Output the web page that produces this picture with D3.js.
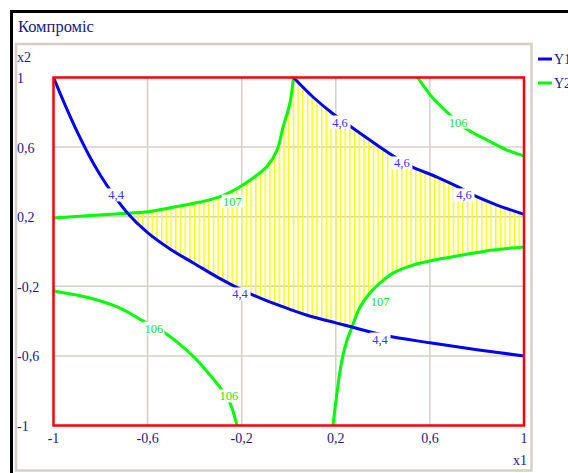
<!DOCTYPE html>
<html>
<head>
<meta charset="utf-8">
<script src="https://cdnjs.cloudflare.com/ajax/libs/d3/7.8.5/d3.min.js"></script>
<style>
  body { margin: 0; background: #fff; }
  svg { display: block; font-family: "Liberation Serif", "DejaVu Serif", serif; }
</style>
</head>
<body>
<svg id="main_chart" width="568" height="473"></svg>
<script>
(function() {
  const title = 'Компроміс';
  const xTicks = [-1, -0.6, -0.2, 0.2, 0.6, 1];
  const yTicks = [1, 0.6, 0.2, -0.2, -0.6, -1];
  const gridValues = [-0.6, -0.2, 0.2, 0.6];
  const seriesNames = ['Y1', 'Y2'];

  // contour lines, [x1, x2]
  const y1Level44 = [[-1, 1], [-0.95, 0.84], [-0.9, 0.69], [-0.85, 0.555], [-0.8, 0.437],
    [-0.75, 0.335], [-0.685, 0.22], [-0.6, 0.108], [-0.5, 0.01],
    [-0.4, -0.07], [-0.3, -0.15], [-0.2, -0.22], [-0.1, -0.28], [0, -0.33], [0.1, -0.375],
    [0.2, -0.41], [0.269, -0.434], [0.4, -0.48], [0.6, -0.525], [0.8, -0.565], [1, -0.6]];
  const y1Level46 = [[0.02, 1], [0.103, 0.888], [0.184, 0.796], [0.26, 0.721], [0.375, 0.612],
    [0.452, 0.543], [0.524, 0.486], [0.63, 0.428], [0.72, 0.371], [0.783, 0.325],
    [0.885, 0.267], [1, 0.214]];
  const y2Level107a = [[-1, 0.193], [-0.875, 0.204], [-0.685, 0.22], [-0.598, 0.229],
    [-0.492, 0.254], [-0.377, 0.284], [-0.292, 0.315], [-0.207, 0.372], [-0.152, 0.422],
    [-0.092, 0.49], [-0.05, 0.583], [-0.024, 0.716], [0.005, 0.853], [0.02, 1]];
  const y2Level107b = [[0.188, -1], [0.205, -0.813], [0.226, -0.624], [0.248, -0.509],
    [0.269, -0.434], [0.303, -0.319], [0.345, -0.239], [0.388, -0.181], [0.443, -0.124],
    [0.528, -0.078], [0.6, -0.055], [0.741, -0.02], [0.868, 0.009], [1, 0.026]];
  const y2Level106a = [[0.548, 1], [0.609, 0.888], [0.677, 0.796], [0.749, 0.71],
    [0.843, 0.641], [0.928, 0.583], [1, 0.549]];
  const y2Level106b = [[-1, -0.227], [-0.845, -0.267], [-0.717, -0.325], [-0.62, -0.399],
    [-0.526, -0.468], [-0.407, -0.601], [-0.335, -0.71], [-0.284, -0.796], [-0.25, -0.87],
    [-0.22, -1]];

  // level labels [x1, x2, text]
  const y1Labels = [[-0.734, 0.325, '4,4'], [-0.207, -0.244, '4,4'], [0.388, -0.503, '4,4'],
    [0.218, 0.744, '4,6'], [0.481, 0.509, '4,6'], [0.745, 0.325, '4,6']];
  const y2Labels = [[-0.24, 0.29, '107'], [0.388, -0.29, '107'],
    [0.72, 0.744, '106'], [-0.573, -0.44, '106'], [-0.254, -0.83, '106']];

  const navy = '#1a1a86';
  const svg = d3.select('#main_chart');
  const fmt = d => String(d).replace('.', ',');

  const xScale = d3.scaleLinear().domain([-1, 1]).range([53.5, 524]);
  const yScale = d3.scaleLinear().domain([-1, 1]).range([425.5, 77.5]);

  // frames
  svg.append('rect').attr('x', 11.5).attr('y', 11.5).attr('width', 620).attr('height', 520)
    .attr('fill', 'none').attr('stroke', '#000').attr('stroke-width', 3);
  svg.append('rect').attr('x', 16).attr('y', 44).attr('width', 515.5).attr('height', 426.5)
    .attr('fill', 'none').attr('stroke', '#d4d0c8').attr('stroke-width', 2.5);
  svg.append('text').attr('x', 18).attr('y', 32).attr('font-size', 16.5).attr('fill', navy).text(title);

  const defs = svg.append('defs');
  defs.append('clipPath').attr('id', 'plot_clip').append('rect')
    .attr('x', xScale(-1)).attr('y', yScale(1))
    .attr('width', xScale(1) - xScale(-1)).attr('height', yScale(-1) - yScale(1));
  const step = xScale(-0.98) - xScale(-1);
  const pat = defs.append('pattern').attr('id', 'hatch').attr('patternUnits', 'userSpaceOnUse')
    .attr('x', xScale(-1) - 0.75).attr('y', 0).attr('width', step).attr('height', 10);
  pat.append('rect').attr('x', 0).attr('y', 0).attr('width', 1.5).attr('height', 10).attr('fill', '#ffff00');

  // grid
  const grid = svg.append('g');
  grid.selectAll('line.gx').data(gridValues).enter().append('line')
    .attr('x1', d => xScale(d)).attr('x2', d => xScale(d))
    .attr('y1', yScale(1)).attr('y2', yScale(-1))
    .attr('stroke', '#d4d0c8').attr('stroke-width', 1.5);
  grid.selectAll('line.gy').data(gridValues).enter().append('line')
    .attr('y1', d => yScale(d)).attr('y2', d => yScale(d))
    .attr('x1', xScale(-1)).attr('x2', xScale(1))
    .attr('stroke', '#d4d0c8').attr('stroke-width', 1.5);

  const line = d3.line().x(d => xScale(d[0])).y(d => yScale(d[1])).curve(d3.curveCatmullRom);
  const plot = svg.append('g').attr('clip-path', 'url(#plot_clip)');

  // compromise region: under 107 (left) and 4,6, above 4,4 and 107 (right)
  const region = y2Level107a.slice(2)
    .concat(y1Level46.slice(1))
    .concat(y2Level107b.slice(4).reverse())
    .concat(y1Level44.slice(6, 17).reverse());
  plot.append('path').attr('d', line(region) + 'Z')
    .attr('fill', 'url(#hatch)').attr('stroke', 'none');

  const curves = [
    {pts: y2Level107a, c: '#00ff00'}, {pts: y2Level107b, c: '#00ff00'},
    {pts: y2Level106a, c: '#00ff00'}, {pts: y2Level106b, c: '#00ff00'},
    {pts: y1Level44, c: '#0000ff'}, {pts: y1Level46, c: '#0000ff'}
  ];
  plot.selectAll('path.curve').data(curves).enter().append('path').attr('class', 'curve')
    .attr('d', d => line(d.pts)).attr('fill', 'none')
    .attr('stroke', d => d.c).attr('stroke-width', 3).attr('stroke-linejoin', 'round');

  function drawLabels(list, color) {
    const g = plot.append('g');
    const lab = g.selectAll('g').data(list).enter().append('g')
      .attr('transform', d => 'translate(' + xScale(d[0]) + ',' + yScale(d[1]) + ')');
    lab.append('rect').attr('x', d => -d[2].length * 3.5).attr('y', -6.5)
      .attr('width', d => d[2].length * 7).attr('height', 13).attr('fill', '#fff');
    lab.append('text').attr('text-anchor', 'middle').attr('y', 4.5).attr('font-size', 12.5)
      .attr('fill', color).text(d => d[2]);
  }
  drawLabels(y1Labels, '#3838ff');
  drawLabels(y2Labels, '#22dd22');

  // red frame
  svg.append('rect').attr('x', xScale(-1)).attr('y', yScale(1))
    .attr('width', xScale(1) - xScale(-1)).attr('height', yScale(-1) - yScale(1))
    .attr('fill', 'none').attr('stroke', '#ff0000').attr('stroke-width', 2.5);

  // axis texts
  svg.selectAll('text.ytick').data(yTicks).enter().append('text').attr('class', 'ytick')
    .attr('x', 17).attr('y', d => yScale(d) + 5.5).attr('font-size', 14).attr('fill', navy)
    .text(fmt);
  svg.selectAll('text.xtick').data(xTicks).enter().append('text').attr('class', 'xtick')
    .attr('x', d => xScale(d)).attr('y', 443).attr('text-anchor', 'middle')
    .attr('font-size', 14).attr('fill', navy).text(fmt);
  svg.append('text').attr('x', 17).attr('y', 62).attr('font-size', 14).attr('fill', navy).text('x2');
  svg.append('text').attr('x', 527).attr('y', 465).attr('text-anchor', 'end')
    .attr('font-size', 14).attr('fill', navy).text('x1');

  // legend (cut by the window edge, as in the original)
  const legend = svg.append('g');
  const lg = legend.selectAll('g').data(seriesNames).enter().append('g')
    .attr('transform', (d, i) => 'translate(538,' + (59 + i * 24) + ')');
  lg.append('line').attr('x1', 0).attr('x2', 14).attr('stroke-width', 3)
    .attr('stroke', (d, i) => i === 0 ? '#0000ff' : '#00ff00');
  lg.append('text').attr('x', 16).attr('y', 5).attr('font-size', 14).attr('fill', navy).text(d => d);
}());
</script>
</body>
</html>
